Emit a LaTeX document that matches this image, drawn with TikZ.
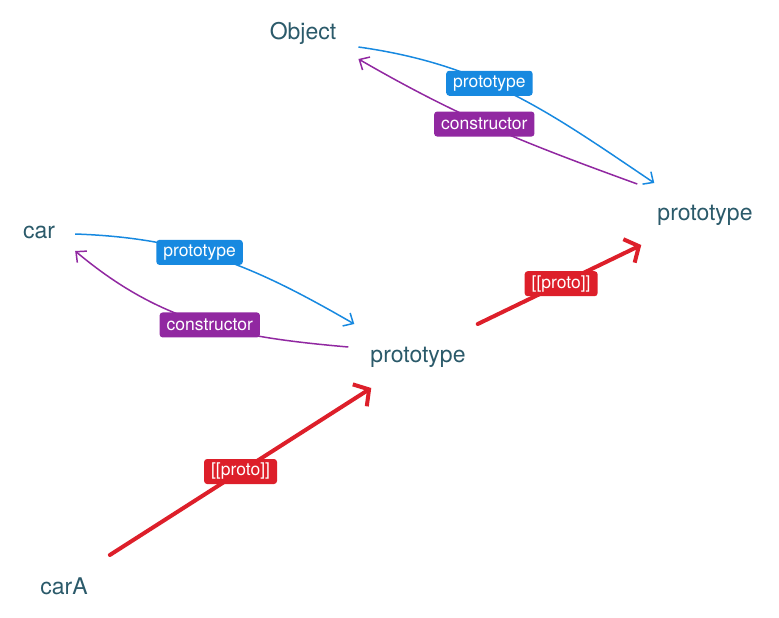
\documentclass[tikz,border=0pt]{standalone}
\usepackage{fontspec}
\setmainfont{TeX Gyre Heros}
\usetikzlibrary{arrows.meta}
\definecolor{txtc}{HTML}{2B5A6A}
\definecolor{protoc}{HTML}{1789E0}
\definecolor{ctorc}{HTML}{9128A1}
\definecolor{linkc}{HTML}{DD1F2A}

\begin{document}
\begin{tikzpicture}[x=1pt,y=1pt,
    obj/.style={inner sep=0pt, text=txtc, font=\fontsize{23}{26}\selectfont},
    tag/.style={fill=#1, text=white, rounded corners=3pt, inner xsep=7pt,
        minimum height=25pt, font=\fontsize{17.5}{19}\selectfont},
    protoline/.style={draw=protoc, line width=1.5pt, -{Straight Barb[length=8pt,width=15pt]}},
    ctorline/.style={draw=ctorc, line width=1.5pt, -{Straight Barb[length=8pt,width=15pt]}},
    linkline/.style={draw=linkc, line width=4pt, line cap=round,
        -{Straight Barb[length=11pt,width=26pt]}}]
                \useasboundingbox (0,0) rectangle (779,-618);

                % Nodes
                \node[obj] (Object) at (303,-33) {Object};
                \node[obj] (ObjProto) at (705,-215) {prototype};
                \node[obj] (car) at (39,-232) {car};
                \node[obj] (carProto) at (418,-357) {prototype};
                \node[obj] (carA) at (64,-586) {carA};

                % Edges
                \draw[protoline] ([shift={(22,-14)}]Object.east) to[out=-8, in=146]
                    node[tag=protoc, pos=0.41] {prototype} ([shift={(-3,32)}]ObjProto.west);
                \draw[ctorline] ([shift={(-20,31)}]ObjProto.west) to[out=160, in=-30]
                    node[tag=ctorc, pos=0.54] {constructor} ([shift={(22,-26)}]Object.east);
                \draw[protoline] ([shift={(20,-2)}]car.east) to[out=-2, in=150]
                    node[tag=protoc, pos=0.42] {prototype} ([shift={(-16,33)}]carProto.west);
                \draw[ctorline] ([shift={(-22,10)}]carProto.west) to[out=175, in=-40]
                    node[tag=ctorc, pos=0.47] {constructor} ([shift={(20,-19)}]car.east);
                \draw[linkline] ([shift={(22,31)}]carA.east) --
                    node[tag=linkc, pos=0.5] {[[proto]]} ([shift={(1,-31)}]carProto.west);
                \draw[linkline] ([shift={(12,33)}]carProto.east) --
                    node[tag=linkc, pos=0.51] {[[proto]]} ([shift={(-16,-30)}]ObjProto.west);
\end{tikzpicture}
\end{document}
